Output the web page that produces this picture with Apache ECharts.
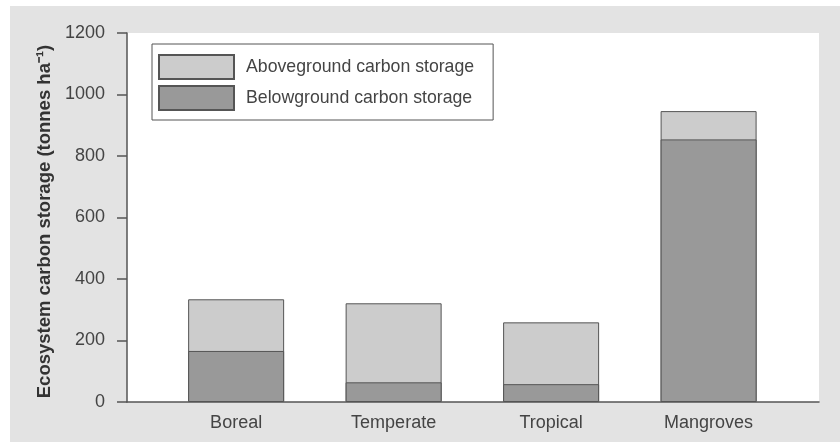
<!DOCTYPE html>
<html>
<head>
<meta charset="utf-8">
<script src="https://cdn.jsdelivr.net/npm/echarts@6/dist/echarts.min.js"></script>
<style>
  html, body { margin: 0; padding: 0; background: #ffffff; }
  #bg { position: absolute; left: 10px; top: 6px; right: 0; bottom: 0; background: #e3e3e3; }
  #chart { position: absolute; left: 0; top: 0; width: 840px; height: 442px; }
</style>
</head>
<body>
<div id="bg"></div>
<div id="chart"></div>
<script>
const categories = ['Boreal', 'Temperate', 'Tropical', 'Mangroves'];
const belowground = [166, 64, 58, 854];
const aboveground = [168, 257, 201, 92];
const yTicks = [0, 200, 400, 600, 800, 1000, 1200];
const seriesNames = ['Aboveground carbon storage', 'Belowground carbon storage'];

const FONT = "'Liberation Sans', Arial, Helvetica, sans-serif";
const chart = echarts.init(document.getElementById('chart'));

const catIdx = categories.map((c, i) => i);
// Aboveground sits on top of belowground: its bar spans below..below+above.
const totals = belowground.map((b, i) => b + aboveground[i]);

chart.setOption({
  backgroundColor: 'transparent',
  animation: false,
  textStyle: { fontFamily: FONT },
  grid: {
    left: 127, top: 33, right: 21, bottom: 40,
    show: true, backgroundColor: '#ffffff', borderWidth: 0
  },
  legend: {
    data: seriesNames,
    orient: 'vertical',
    left: 152, top: 44,
    icon: 'rect',
    itemWidth: 75, itemHeight: 24, itemGap: 5,
    padding: [10, 19, 9, 6],
    borderColor: '#555555', borderWidth: 1,
    backgroundColor: '#ffffff',
    textStyle: { fontSize: 17.7, color: '#444444', fontFamily: FONT, padding: [0, 0, 0, 7] }
  },
  xAxis: {
    type: 'value',
    min: -0.693, max: 3.701,
    splitLine: { show: false },
    axisLine: { show: true, onZero: false, lineStyle: { color: '#555555', width: 1.5 } },
    axisTick: { show: false },
    axisLabel: {
      customValues: catIdx,
      formatter: v => categories[Math.round(v)] || '',
      fontSize: 18, color: '#444444', margin: 12, fontFamily: FONT
    }
  },
  yAxis: {
    type: 'value',
    min: 0, max: 1200, interval: 200,
    name: 'Ecosystem carbon storage (tonnes ha⁻¹)',
    nameLocation: 'middle', nameGap: 73,
    nameTextStyle: { fontSize: 18.5, fontWeight: 'bold', color: '#333333', fontFamily: FONT, padding: [0, 8, 0, 0] },
    splitLine: { show: false },
    axisLine: { show: true, onZero: false, lineStyle: { color: '#555555', width: 1.5 } },
    axisTick: { show: true, length: 10, lineStyle: { color: '#555555', width: 1.5 } },
    axisLabel: {
      customValues: yTicks,
      formatter: v => String(v),
      fontSize: 18, color: '#444444', margin: 22, fontFamily: FONT
    }
  },
  series: [
    {
      name: seriesNames[0], type: 'bar', barWidth: 96, barGap: '-100%',
      data: totals.map((v, i) => [i, v]),
      itemStyle: { color: '#cccccc', borderColor: '#555555', borderWidth: 1 }
    },
    {
      name: seriesNames[1], type: 'bar', barWidth: 96, barGap: '-100%',
      data: belowground.map((v, i) => [i, v]),
      itemStyle: { color: '#999999', borderColor: '#555555', borderWidth: 1 }
    }
  ]
});
</script>
</body>
</html>
